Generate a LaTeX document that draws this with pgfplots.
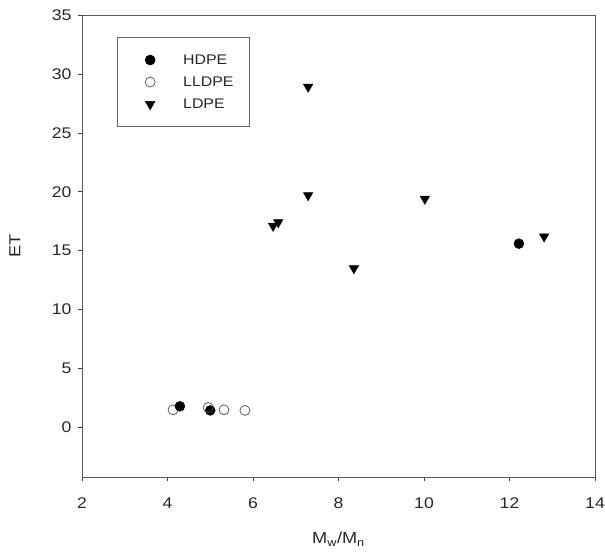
\documentclass[border=0pt]{standalone}
\usepackage{pgfplots}
\pgfplotsset{compat=1.18}
\usepackage{fontspec}
\setmainfont{Liberation Sans}[FakeStretch=1.14]
\begin{document}
\begin{tikzpicture}
\path[use as bounding box] (0,0) rectangle (605bp,558bp);
\begin{axis}[
  at={(82bp,81bp)}, anchor=south west,
  scale only axis, width=513bp, height=462bp,
  xmin=2, xmax=14, ymin=-4.2, ymax=35,
  xtick={2,4,...,14}, ytick={0,5,...,35},
  xtick pos=bottom, ytick pos=left, tick align=outside,
  major tick length=4bp,
  axis line style={black!65, line width=0.8pt},
  tick style={black!75, line width=0.6pt},
  ticklabel style={font=\fontsize{15.5}{18}\selectfont, text=black!85},
  /pgf/number format/assume math mode=true,
  xticklabel style={yshift=-13bp},
  yticklabel style={xshift=-3bp},
  label style={font=\fontsize{16}{18}\selectfont, text=black!85},
  xlabel={M\textsubscript{w}/M\textsubscript{n}},
  ylabel={ET},
  xlabel style={at={(axis description cs:0.5,-0.135)}, anchor=center},
  ylabel style={at={(axis description cs:-0.131,0.5)}, anchor=center},
  legend style={at={(axis description cs:0.068,0.952)}, anchor=north west,
    draw=black!60, line width=0.6pt, font=\fontsize{14}{16}\selectfont,
    inner xsep=28bp, inner ysep=15bp, row sep=7bp, text=black!85},
  legend cell align=left,
]
\addplot[only marks, mark=o, mark size=5bp, black!70, mark options={fill=white, line width=0.7pt}, forget plot] coordinates {
  (4.13,1.5)
};
\addplot[only marks, mark=*, mark size=5bp, black] coordinates {
  (4.29,1.8) (5.0,1.45) (12.22,15.6)
};
\addlegendentry{\makebox[62bp][l]{\hspace{26bp}HDPE}}
\addplot[only marks, mark=o, mark size=5bp, black!70, mark options={fill=white, line width=0.7pt}] coordinates {
  (4.95,1.7) (5.32,1.5) (5.81,1.45)
};
\addlegendentry{\makebox[62bp][l]{\hspace{26bp}LLDPE}}
\addplot[only marks, mark=triangle*, mark size=5.5bp, black, mark options={rotate=180}] coordinates {
  (6.47,17.1) (6.59,17.4) (7.29,28.9) (7.29,19.7) (8.36,13.5) (10.02,19.4) (12.81,16.2)
};
\addlegendentry{\makebox[62bp][l]{\hspace{26bp}LDPE}}
\end{axis}
\end{tikzpicture}
\end{document}
